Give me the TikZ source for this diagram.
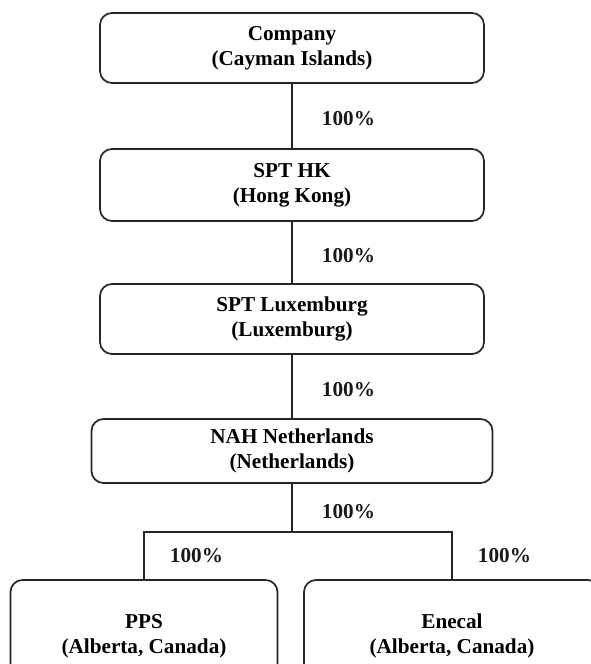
\documentclass[tikz,border=0pt]{standalone}
\usepackage{fontspec}
\setmainfont{Liberation Serif}
\begin{document}
\begin{tikzpicture}[x=1pt,y=-1pt,
		font=\bfseries\fontsize{21.2}{25}\selectfont,
		entity/.style={draw=black!85,line width=1.7pt,rounded corners=12pt,align=center,
			inner sep=0pt,minimum width=#1},
		link/.style={draw=black!85,line width=1.3pt},
		pct/.style={anchor=west,xshift=#1,text=black!90}]
	\useasboundingbox (0,0) rectangle (591,664);
	% holding chain
	\node[entity=384pt,minimum height=70pt] (company) at (292,48) {Company\\(Cayman Islands)};
	\node[entity=384pt,minimum height=72pt] (sptHK) at (292,185) {SPT HK\\(Hong Kong)};
	\node[entity=384pt,minimum height=70pt] (sptLux) at (292,319) {SPT Luxemburg\\(Luxemburg)};
	\node[entity=401pt,minimum height=64pt] (nah) at (292,451) {NAH Netherlands\\(Netherlands)};
	% operating companies
	\node[entity=267pt,minimum height=112pt] (pps) at (144,636) {PPS\\(Alberta, Canada)};
	\node[entity=296pt,minimum height=112pt] (enecal) at (452,636) {Enecal\\(Alberta, Canada)};
	\coordinate (fork) at (292,532);
	\draw[link] (company) -- node[pct=26pt,yshift=-3pt] (own1) {100\%} (sptHK);
	\draw[link] (sptHK) -- node[pct=26pt,yshift=-3pt] (own2) {100\%} (sptLux);
	\draw[link] (sptLux) -- node[pct=26pt,yshift=-3pt] (own3) {100\%} (nah);
	\draw[link] (nah) -- node[pct=26pt,yshift=-4pt] (own4) {100\%} (fork);
	\draw[link] (fork) -| node[pct=22pt,pos=.75] (own5) {100\%} (pps.north);
	\draw[link] (fork) -| node[pct=22pt,pos=.75] (own6) {100\%} (enecal.north);
\end{tikzpicture}
\end{document}
